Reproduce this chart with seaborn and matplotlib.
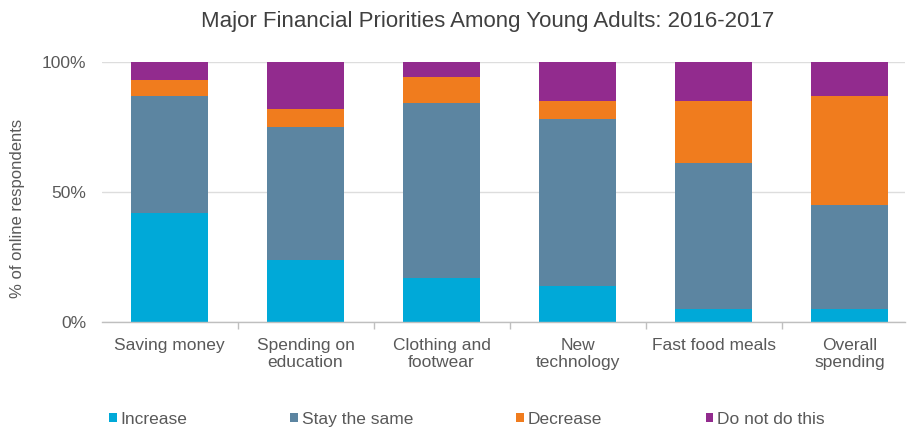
import numpy as np
import pandas as pd
import matplotlib
matplotlib.use("Agg")
import matplotlib.pyplot as plt
from matplotlib.patches import Patch
import seaborn as sns

# Survey categories and response shares (% of online respondents)
categories = ["Saving money", "Spending on\neducation", "Clothing and\nfootwear",
              "New\ntechnology", "Fast food meals", "Overall\nspending"]
increase = [42, 24, 17, 14, 5, 5]
stay_same = [45, 51, 67, 64, 56, 40]
decrease = [6, 7, 10, 7, 24, 42]
do_not = [7, 18, 6, 15, 15, 13]

series_names = ["Increase", "Stay the same", "Decrease", "Do not do this"]
series_colors = ["#00A9D8", "#5C85A1", "#F07C1E", "#922B8E"]
yticks = [0, 50, 100]
ytick_labels = ["0%", "50%", "100%"]

sns.set_theme(style="white")
plt.rcParams["font.family"] = ["Liberation Sans", "DejaVu Sans"]

df = pd.DataFrame({
    "category": categories,
    "Increase": increase,
    "Stay the same": stay_same,
    "Decrease": decrease,
    "Do not do this": do_not,
})

fig = plt.figure(figsize=(9.09, 4.28), dpi=100)
ax = fig.add_axes([0.1117, 0.2465, 0.884, 0.6093])

# Stacked bars: draw cumulative totals from the top segment down
cum = df[series_names].cumsum(axis=1)
for name, color in reversed(list(zip(series_names, series_colors))):
    sns.barplot(x=df["category"], y=cum[name], color=color, width=0.566,
                saturation=1, ax=ax, linewidth=0, zorder=2)

ax.set_ylim(0, 100)
ax.set_xlim(-0.5, 5.408)
ax.set_yticks(yticks)
ax.set_yticklabels(ytick_labels)
ax.yaxis.grid(True, color="#DDDDDD", linewidth=1, zorder=0)
ax.set_axisbelow(True)

for side in ["top", "right", "left"]:
    ax.spines[side].set_visible(False)
ax.spines["bottom"].set_color("#BFBFBF")
ax.spines["bottom"].set_linewidth(1)

ax.tick_params(axis="x", which="major", length=0, pad=11, labelsize=12.5, labelcolor="#595959")
ax.tick_params(axis="y", length=0, pad=11, labelsize=12.5, labelcolor="#595959")
ax.set_xticks(np.arange(0.5, 5.5, 1.0), minor=True)
ax.tick_params(axis="x", which="minor", length=5, color="#BFBFBF", bottom=True)

ax.set_xlabel("")
ax.set_ylabel("% of online respondents", fontsize=12, color="#595959")
ax.yaxis.set_label_coords(-0.095, 0.439)

fig.suptitle("Major Financial Priorities Among Young Adults: 2016-2017",
             x=0.536, y=0.975, fontsize=16, color="#404040")

handles = [Patch(facecolor=c, edgecolor="none") for c in series_colors]
fig.legend(handles, series_names, loc="center left", bbox_to_anchor=(0.1023, 0.02),
           ncol=4, frameon=False, fontsize=12.5, handlelength=0.46, handleheight=0.46,
           handletextpad=0.2, columnspacing=5.95, labelcolor="#595959")

fig.savefig("out.png", dpi=100)
